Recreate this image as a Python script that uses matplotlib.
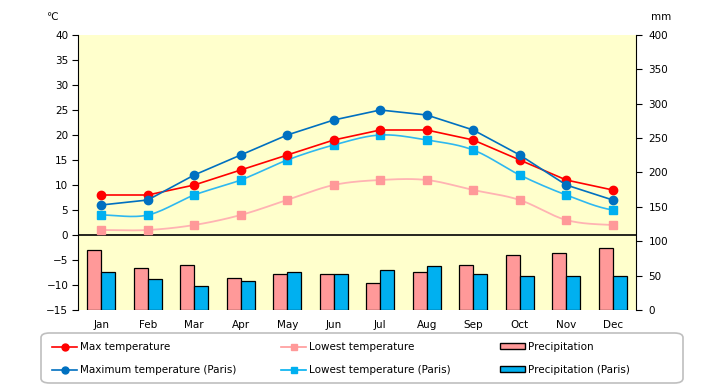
import matplotlib.pyplot as plt
import numpy as np
from matplotlib.lines import Line2D
from matplotlib.patches import Patch, FancyBboxPatch

# Dados
months = ['Jan', 'Feb', 'Mar', 'Apr', 'May', 'Jun', 'Jul', 'Aug', 'Sep', 'Oct', 'Nov', 'Dec']
max_temp = [8, 8, 10, 13, 16, 19, 21, 21, 19, 15, 11, 9]
low_temp = [1, 1, 2, 4, 7, 10, 11, 11, 9, 7, 3, 2]
max_temp_paris = [6, 7, 12, 16, 20, 23, 25, 24, 21, 16, 10, 7]
low_temp_paris = [4, 4, 8, 11, 15, 18, 20, 19, 17, 12, 8, 5]
precip = [88, 61, 65, 47, 53, 53, 39, 55, 65, 80, 83, 90]
precip_paris = [55, 45, 35, 42, 56, 53, 58, 64, 53, 49, 50, 49]

plt.rcParams['font.family'] = ['DejaVu Sans']


def smooth(ys, n=16):
    # curva Catmull-Rom passando pelos pontos (estilo "linha suavizada")
    ys = np.asarray(ys, dtype=float)
    xs = np.arange(len(ys), dtype=float)
    px = np.concatenate([[2 * xs[0] - xs[1]], xs, [2 * xs[-1] - xs[-2]]])
    py = np.concatenate([[ys[0]], ys, [ys[-1]]])
    out_x, out_y = [], []
    t = np.linspace(0, 1, n, endpoint=False)
    for i in range(1, len(px) - 2):
        for arr, out in ((px, out_x), (py, out_y)):
            p0, p1, p2, p3 = arr[i - 1], arr[i], arr[i + 1], arr[i + 2]
            out.extend(0.5 * ((2 * p1) + (-p0 + p2) * t
                              + (2 * p0 - 5 * p1 + 4 * p2 - p3) * t ** 2
                              + (-p0 + 3 * p1 - 3 * p2 + p3) * t ** 3))
    out_x.append(xs[-1])
    out_y.append(ys[-1])
    return out_x, out_y


x = np.arange(len(months))

fig = plt.figure(figsize=(7.2, 3.85), dpi=100)
ax = fig.add_axes([78 / 720, 75 / 385, 558 / 720, 275 / 385])
ax2 = ax.twinx()

# Barras de precipitação (eixo da direita)
w = 0.3
ax2.bar(x - w / 2, precip, width=w, color='#FF9999', edgecolor='black', linewidth=0.9)
ax2.bar(x + w / 2, precip_paris, width=w, color='#00B0F0', edgecolor='black', linewidth=0.9)
ax2.set_ylim(0, 400)
ax2.set_yticks(range(0, 401, 50))

# Temperaturas (eixo da esquerda), por cima das barras
ax.set_zorder(ax2.get_zorder() + 1)
ax.patch.set_visible(False)
ax2.patch.set_visible(True)
ax2.patch.set_facecolor('#FFFFCC')

ax.axhline(0, color='black', linewidth=1.2)

sx, sy = smooth(low_temp)
ax.plot(sx, sy, color='#FFB3B3', linewidth=1.3)
ax.plot(x, low_temp, 's', color='#FF9999', markersize=6)

sx, sy = smooth(low_temp_paris)
ax.plot(sx, sy, color='#2EB8F0', linewidth=1.2)
ax.plot(x, low_temp_paris, 's', color='#00B0F0', markersize=6)

ax.plot(x, max_temp, '-o', color='#FF0000', markersize=6, linewidth=1.2)
ax.plot(x, max_temp_paris, '-o', color='#0070C0', markersize=6, linewidth=1.2)

ax.set_ylim(-15, 40)
ax.set_yticks(range(-15, 41, 5))
ax.set_xlim(-0.5, len(months) - 0.5)
ax.set_xticks(x)
ax.set_xticklabels(months)

ax.tick_params(axis='x', length=0, pad=7, labelsize=7.5)
ax.tick_params(axis='y', direction='out', length=4, labelsize=7.5, pad=3)
ax2.tick_params(axis='y', direction='out', length=4, labelsize=7.5, pad=5)

for a in (ax, ax2):
    a.spines['top'].set_visible(False)
    a.spines['bottom'].set_visible(False)
ax.spines['right'].set_visible(False)
ax2.spines['left'].set_visible(False)

fig.text(52 / 720, 1 - 17 / 385, '℃', fontsize=7.5, ha='center', va='center')
fig.text(661 / 720, 1 - 17 / 385, 'mm', fontsize=7.5, ha='center', va='center')

# Caixa da legenda (arredondada) e três colunas
fig.patches.append(FancyBboxPatch((41 / 720, 2 / 385), 642 / 720, 50 / 385,
                                  boxstyle='round,pad=0,rounding_size=0.012',
                                  transform=fig.transFigure, facecolor='white',
                                  edgecolor='#BFBFBF', linewidth=1.2))

cols = [
    ([Line2D([], [], color='#FF0000', marker='o', markersize=5, linewidth=1.2),
      Line2D([], [], color='#0070C0', marker='o', markersize=5, linewidth=1.2)],
     ['Max temperature', 'Maximum temperature (Paris)'], 52),
    ([Line2D([], [], color='#FF9999', marker='s', markersize=5, linewidth=1.2),
      Line2D([], [], color='#00B0F0', marker='s', markersize=5, linewidth=1.2)],
     ['Lowest temperature', 'Lowest temperature (Paris)'], 281),
    ([Patch(facecolor='#FF9999', edgecolor='black'),
      Patch(facecolor='#00B0F0', edgecolor='black')],
     ['Precipitation', 'Precipitation (Paris)'], 500),
]
for hs, ls, x0 in cols:
    fig.legend(hs, ls, loc='upper left', bbox_to_anchor=(x0 / 720, 1 - 342 / 385),
               frameon=False, fontsize=7.5, handlelength=2.4, handleheight=0.5,
               handletextpad=0.3, labelspacing=1.25, borderpad=0, borderaxespad=0)

plt.savefig('out.png', dpi=100)
